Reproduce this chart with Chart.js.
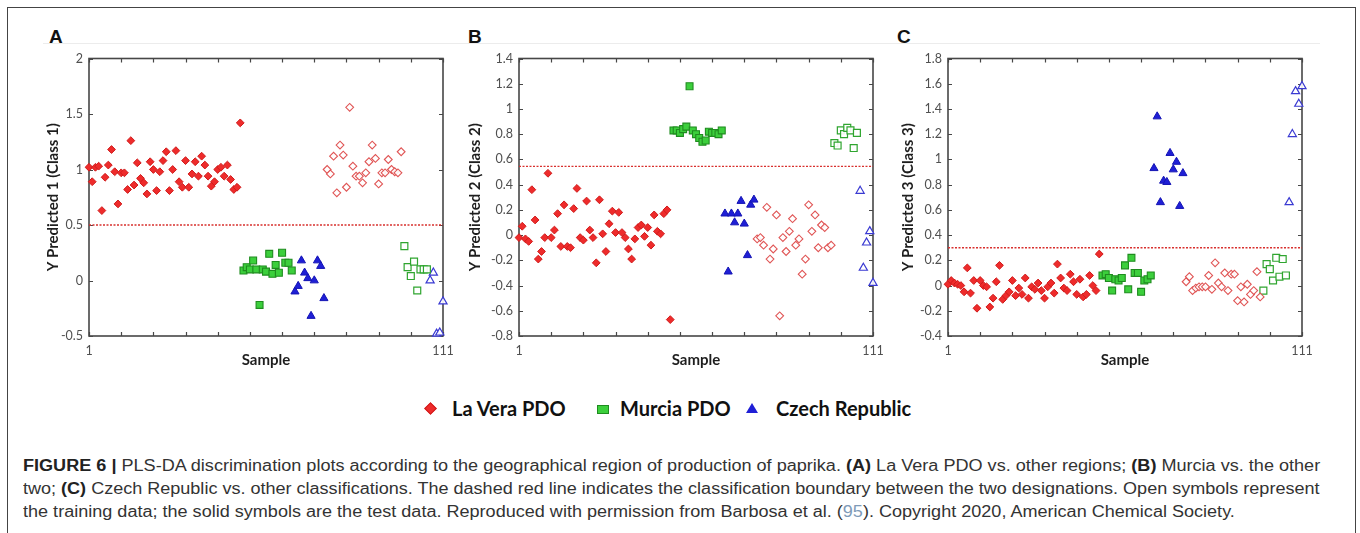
<!DOCTYPE html>
<html>
<head>
<meta charset="utf-8">
<script src="https://cdn.jsdelivr.net/npm/chart.js@4.4.1/dist/chart.umd.min.js"></script>
<style>
  html, body { margin: 0; padding: 0; background: #fff; }
  body { width: 1360px; height: 533px; position: relative; overflow: hidden; font-family: Lato, sans-serif; }
  .frame { position: absolute; left: 7px; top: 7px; width: 1349px; height: 600px; border: 1px solid #444; box-sizing: border-box; }
  .rule { position: absolute; left: 43px; top: 43px; width: 1277px; height: 1px; background: #ececec; }
  .tag { position: absolute; top: 27px; font: bold 19px/19px "Liberation Sans", Arial, sans-serif; color: #111; }
  .plot { position: absolute; top: 45px; }
  .key { position: absolute; top: 396px; height: 24px; font: bold 20px/24px Lato, sans-serif; color: #111; white-space: nowrap; }
  .sym { position: absolute; }
  .caption { position: absolute; left: 23px; font: 16px/23px "Liberation Sans", Arial, sans-serif; color: #333; white-space: nowrap; transform-origin: 0 50%; }
  .caption b { color: #222; }
  .caption .ref { color: #7f9bb8; }
</style>
</head>
<body>
<div class="frame"></div>
<div class="rule"></div>
<div class="tag" style="left:49px">A</div>
<div class="tag" style="left:468px">B</div>
<div class="tag" style="left:897px">C</div>

<canvas id="panelA" class="plot" width="435" height="330" style="left:33px"></canvas>
<canvas id="panelB" class="plot" width="443" height="330" style="left:455px"></canvas>
<canvas id="panelC" class="plot" width="439" height="330" style="left:888px"></canvas>

<!-- shared legend -->
<div class="sym" style="left:426px;top:404px;width:7px;height:7px;background:#ee2b2b;border:1px solid #cf1a1a;transform:rotate(45deg)"></div>
<div class="key" style="left:452px">La Vera PDO</div>
<div class="sym" style="left:597px;top:405px;width:10px;height:7px;background:#3ccf3c;border:1px solid #1f8c1f"></div>
<div class="key" style="left:620px">Murcia PDO</div>
<div class="sym" style="left:746px;top:403px;width:0;height:0;border-left:6px solid transparent;border-right:6px solid transparent;border-bottom:10px solid #1f1fd6"></div>
<div class="key" style="left:776px">Czech Republic</div>

<div class="caption" id="cap1" style="top:454px"><b>FIGURE 6 |</b> PLS-DA discrimination plots according to the geographical region of production of paprika. <b>(A)</b> La Vera PDO vs. other regions; <b>(B)</b> Murcia vs. the other</div>
<div class="caption" id="cap2" style="top:477px">two; <b>(C)</b> Czech Republic vs. other classifications. The dashed red line indicates the classification boundary between the two designations. Open symbols represent</div>
<div class="caption" id="cap3" style="top:500px">the training data; the solid symbols are the test data. Reproduced with permission from Barbosa et al. (<span class="ref">95</span>). Copyright 2020, American Chemical Society.</div>

<script>
// sample order: La Vera test 1-48, Murcia test 49-64, Czech test 65-74,
// La Vera training 75-98, Murcia training 99-106, Czech training 107-111
const firstSample = { laVeraTest: 1, murciaTest: 49, czechTest: 65, laVeraTrain: 75, murciaTrain: 99, czechTrain: 107 };
const sampleTicks = [1, 11, 21, 31, 41, 51, 61, 71, 81, 91, 101, 111];
const sampleLabels = [1, 111];

// Class 1 (La Vera PDO)
const laVeraTestA = [1.02, 0.89, 1.02, 1.03, 0.63, 0.93, 1.04, 1.18, 0.98, 0.69, 0.97, 0.97, 0.82, 1.26, 0.86, 1.06,
  0.92, 0.88, 0.78, 1.07, 1.00, 0.81, 0.98, 1.08, 1.16, 0.81, 1.00, 1.17, 0.89, 0.84, 1.08, 0.84,
  0.96, 1.07, 0.94, 1.12, 1.04, 0.94, 0.85, 0.89, 1.00, 1.02, 0.94, 1.04, 0.91, 0.82, 0.84, 1.42];
const murciaTestA = [0.09, 0.12, 0.10, 0.18, 0.10, -0.22, 0.10, 0.08, 0.24, 0.06, 0.14, 0.07, 0.25, 0.16, 0.16, 0.09];
const czechTestA = [-0.10, -0.05, 0.18, 0.07, 0.02, -0.32, 0.00, 0.18, 0.13, -0.16];
const laVeraTrainA = [1.00, 0.96, 1.12, 0.79, 1.22, 1.13, 0.84, 1.56, 1.03, 0.94, 0.94, 0.88,
  0.97, 1.07, 1.22, 1.10, 0.87, 0.97, 0.97, 1.09, 1.00, 0.98, 0.97, 1.16];
const murciaTrainA = [0.31, 0.12, 0.04, 0.17, -0.09, 0.10, 0.10, 0.10];
const czechTrainA = [0.00, 0.07, -0.48, -0.47, -0.19];

// Class 2 (Murcia PDO)
const laVeraTestB = [-0.02, 0.07, -0.03, -0.05, 0.36, 0.12, -0.19, -0.13, -0.02, 0.49, -0.02, 0.04, 0.17, -0.09, 0.24, -0.09,
  -0.10, 0.21, 0.37, -0.02, -0.04, 0.27, 0.04, -0.02, -0.22, 0.28, 0.01, -0.13, 0.09, 0.19, 0.02, 0.18,
  0.02, -0.02, -0.11, -0.19, -0.03, 0.06, 0.08, -0.01, 0.06, -0.08, 0.16, 0.03, 0.01, 0.17, 0.20, -0.67];
const murciaTestB = [0.83, 0.83, 0.81, 0.84, 0.86, 1.18, 0.83, 0.80, 0.77, 0.74, 0.75, 0.82, 0.81, 0.81, 0.80, 0.83];
const czechTestB = [0.17, -0.29, 0.17, 0.10, 0.17, 0.27, 0.09, -0.16, 0.24, 0.28];
const laVeraTrainB = [-0.03, -0.02, -0.08, 0.22, -0.19, -0.11, 0.16, -0.64, -0.02, -0.13, 0.03, 0.13,
  -0.08, -0.03, -0.31, -0.19, 0.24, 0.03, 0.16, -0.10, 0.08, 0.06, -0.10, -0.08];
const murciaTrainB = [0.73, 0.71, 0.83, 0.80, 0.85, 0.83, 0.69, 0.81];
const czechTrainB = [0.35, -0.26, -0.06, 0.03, -0.38];

// Class 3 (Czech Republic)
const laVeraTestC = [0.01, 0.04, 0.02, 0.01, 0.00, -0.05, 0.14, -0.06, 0.04, -0.18, 0.04, 0.00, -0.01, -0.17, -0.10, 0.03,
  0.16, -0.11, -0.08, -0.05, 0.04, -0.08, -0.02, -0.07, 0.06, -0.10, -0.01, -0.03, 0.02, -0.04, -0.10, -0.01,
  0.02, -0.06, 0.17, 0.06, -0.02, -0.04, 0.09, 0.03, -0.07, 0.05, -0.09, -0.07, 0.08, 0.00, -0.04, 0.25];
const murciaTestC = [0.08, 0.09, 0.06, -0.04, 0.05, 0.04, 0.06, 0.16, -0.03, 0.22, 0.10, 0.10, -0.05, 0.04, 0.05, 0.08];
const czechTestC = [0.93, 1.34, 0.66, 0.83, 0.82, 1.05, 0.92, 0.98, 0.63, 0.89];
const laVeraTrainC = [0.03, 0.07, -0.04, -0.02, -0.01, -0.01, -0.01, 0.08, -0.03, 0.18, 0.02, -0.01,
  0.10, -0.04, 0.09, 0.09, -0.12, -0.01, -0.13, 0.01, -0.07, -0.04, 0.11, -0.09];
const murciaTrainC = [-0.04, 0.17, 0.13, 0.04, 0.22, 0.07, 0.21, 0.08];
const czechTrainC = [0.66, 1.20, 1.54, 1.44, 1.58];

// classification boundaries
const boundaryA = 0.5;
const boundaryB = 0.545;
const boundaryC = 0.3;

function samples(values, first) {
  return values.map((v, i) => ({ x: first + i, y: v }));
}

// box around the plot area with inward tick marks on all four sides
const frameBox = {
  id: 'frameBox',
  beforeDatasetsDraw(chart) {
    const { ctx, chartArea: a, scales } = chart;
    ctx.save();
    ctx.strokeStyle = '#474747';
    ctx.lineWidth = 1.6;
    ctx.strokeRect(a.left, a.top, a.right - a.left, a.bottom - a.top);
    ctx.lineWidth = 1.2;
    ctx.beginPath();
    sampleTicks.forEach(v => {
      const px = Math.round(scales.x.getPixelForValue(v)) + 0.5;
      ctx.moveTo(px, a.bottom); ctx.lineTo(px, a.bottom - 4);
      ctx.moveTo(px, a.top); ctx.lineTo(px, a.top + 4);
    });
    scales.y.ticks.forEach(t => {
      const py = Math.round(scales.y.getPixelForValue(t.value)) + 0.5;
      ctx.moveTo(a.left, py); ctx.lineTo(a.left + 4, py);
      ctx.moveTo(a.right, py); ctx.lineTo(a.right - 4, py);
    });
    ctx.stroke();
    ctx.restore();
  }
};

function makePanel(id, p) {
  const marker = (label, values, first, style) => Object.assign({
    label, data: samples(values, first), clip: false
  }, style);
  const filledDiamond = { pointStyle: 'rectRot', pointRadius: 3.9, backgroundColor: '#ee2b2b', borderColor: '#d01b1b', borderWidth: 1 };
  const openDiamond = { pointStyle: 'rectRot', pointRadius: 3.9, backgroundColor: 'rgba(255,255,255,0.9)', borderColor: '#e05555', borderWidth: 1.1 };
  const filledSquare = { pointStyle: 'rect', pointRadius: 4.9, backgroundColor: '#3ccf3c', borderColor: '#1f8c1f', borderWidth: 1.1 };
  const openSquare = { pointStyle: 'rect', pointRadius: 4.9, backgroundColor: 'rgba(255,255,255,0.9)', borderColor: '#2fa52f', borderWidth: 1.2 };
  const filledTri = { pointStyle: 'triangle', pointRadius: 4.7, backgroundColor: '#1f1fd6', borderColor: '#1414b4', borderWidth: 1 };
  const openTri = { pointStyle: 'triangle', pointRadius: 4.7, backgroundColor: 'rgba(255,255,255,0.9)', borderColor: '#3a3ad2', borderWidth: 1.2 };

  return new Chart(document.getElementById(id), {
    type: 'scatter',
    plugins: [frameBox],
    data: {
      datasets: [
        marker('La Vera PDO (test)', p.laVeraTest, firstSample.laVeraTest, filledDiamond),
        marker('La Vera PDO (training)', p.laVeraTrain, firstSample.laVeraTrain, openDiamond),
        marker('Murcia PDO (test)', p.murciaTest, firstSample.murciaTest, filledSquare),
        marker('Murcia PDO (training)', p.murciaTrain, firstSample.murciaTrain, openSquare),
        marker('Czech Republic (test)', p.czechTest, firstSample.czechTest, filledTri),
        marker('Czech Republic (training)', p.czechTrain, firstSample.czechTrain, openTri),
        {
          type: 'line',
          label: 'boundary',
          data: [{ x: sampleLabels[0], y: p.boundary }, { x: sampleLabels[1], y: p.boundary }],
          borderColor: '#d8302e',
          borderWidth: 1.4,
          borderDash: [2, 1.5],
          pointRadius: 0,
          order: 10
        }
      ]
    },
    options: {
      responsive: false,
      animation: false,
      events: [],
      layout: { padding: { top: 10, right: 25, bottom: 0, left: 0 } },
      plugins: { legend: { display: false }, tooltip: { enabled: false } },
      scales: {
        x: {
          type: 'linear',
          min: sampleLabels[0],
          max: sampleLabels[1],
          grid: { display: false, drawTicks: false },
          border: { display: false },
          afterBuildTicks: scale => { scale.ticks = sampleLabels.map(v => ({ value: v })); },
          afterFit: scale => { scale.height = 39; },
          ticks: {
            autoSkip: false,
            maxRotation: 0,
            padding: 7,
            color: '#505050',
            font: { family: 'Lato', size: 12.5 },
            callback: v => String(v)
          },
          title: {
            display: true,
            text: 'Sample',
            color: '#1e1e1e',
            font: { family: 'Lato', size: 15, weight: 'bold' },
            padding: { top: 0, bottom: 6 }
          }
        },
        y: {
          min: p.yMin,
          max: p.yMax,
          grid: { display: false, drawTicks: false },
          border: { display: false },
          afterFit: scale => { scale.width = p.axisWidth; },
          ticks: {
            stepSize: p.yStep,
            padding: 6,
            color: '#505050',
            font: { family: 'Lato', size: 12.5 },
            callback: v => String(Math.round(v * 10) / 10)
          },
          title: {
            display: true,
            text: p.title,
            color: '#1e1e1e',
            font: { family: 'Lato', size: 15, weight: 'bold' },
            padding: { top: 11, bottom: 0 }
          }
        }
      }
    }
  });
}

makePanel('panelA', {
  title: 'Y Predicted 1 (Class 1)', yMin: -0.5, yMax: 2, yStep: 0.5, axisWidth: 56, boundary: boundaryA,
  laVeraTest: laVeraTestA, murciaTest: murciaTestA, czechTest: czechTestA,
  laVeraTrain: laVeraTrainA, murciaTrain: murciaTrainA, czechTrain: czechTrainA
});
makePanel('panelB', {
  title: 'Y Predicted 2 (Class 2)', yMin: -0.8, yMax: 1.4, yStep: 0.2, axisWidth: 64, boundary: boundaryB,
  laVeraTest: laVeraTestB, murciaTest: murciaTestB, czechTest: czechTestB,
  laVeraTrain: laVeraTrainB, murciaTrain: murciaTrainB, czechTrain: czechTrainB
});
makePanel('panelC', {
  title: 'Y Predicted 3 (Class 3)', yMin: -0.4, yMax: 1.8, yStep: 0.2, axisWidth: 60, boundary: boundaryC,
  laVeraTest: laVeraTestC, murciaTest: murciaTestC, czechTest: czechTestC,
  laVeraTrain: laVeraTrainC, murciaTrain: murciaTrainC, czechTrain: czechTrainC
});

// caption lines are stretched to the column width
(function fitCaption() {
  const full = 1297;
  const l1 = document.getElementById('cap1');
  const l2 = document.getElementById('cap2');
  const l3 = document.getElementById('cap3');
  const k1 = full / l1.offsetWidth;
  const k2 = full / l2.offsetWidth;
  l1.style.transform = 'scaleX(' + k1 + ')';
  l2.style.transform = 'scaleX(' + k2 + ')';
  l3.style.transform = 'scaleX(' + ((k1 + k2) / 2) + ')';
})();
</script>
</body>
</html>
